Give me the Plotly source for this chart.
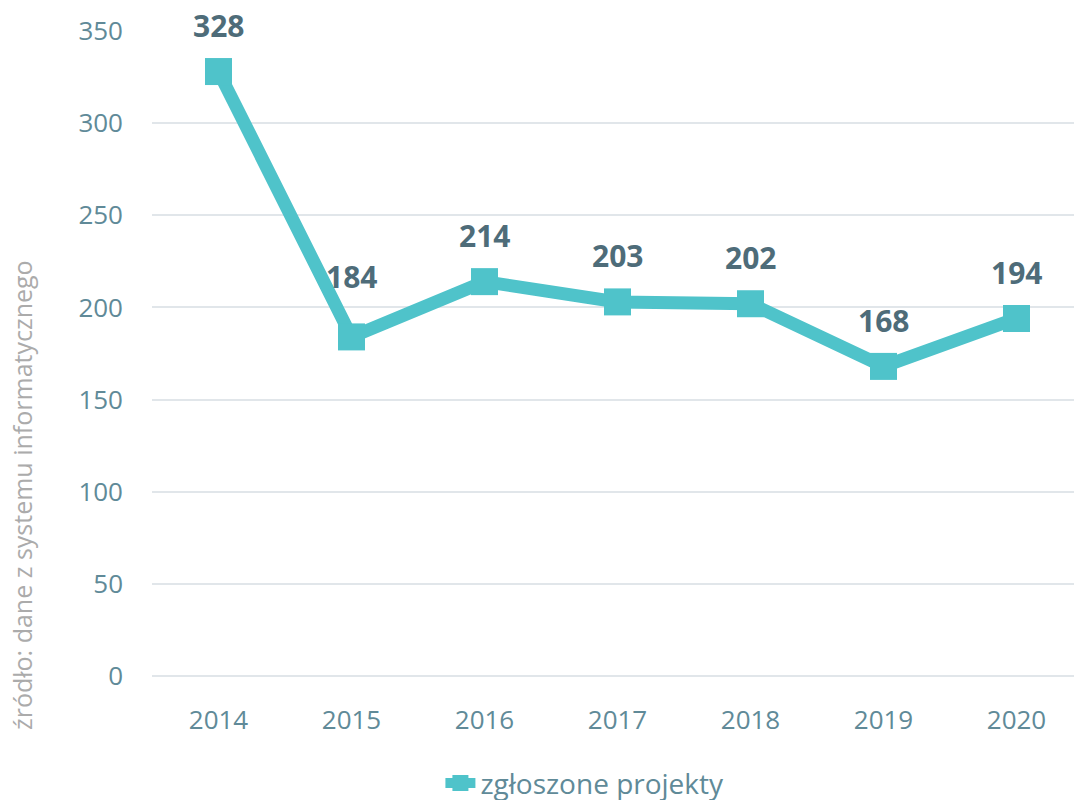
import plotly.graph_objects as go

years = ["2014", "2015", "2016", "2017", "2018", "2019", "2020"]
projects = [328, 184, 214, 203, 202, 168, 194]
series_name = "zgłoszone projekty"
y_ticks = [0, 50, 100, 150, 200, 250, 300, 350]
source_note = "źródło: dane z systemu informatycznego"

LINE = "#4FC3CA"
LABEL = "#4E6C79"
TICK = "#608A98"
GRID = "#E1E6EA"
FONT = "Open Sans"

fig = go.Figure()
fig.add_trace(go.Scatter(
    x=list(range(len(years))), y=projects, name=series_name,
    mode="lines+markers",
    line=dict(color=LINE, width=13),
    marker=dict(symbol="square", size=27, color=LINE),
    cliponaxis=False,
))

label_shift = [46 if v != 184 else 60 for v in projects]
for i, (v, s) in enumerate(zip(projects, label_shift)):
    fig.add_annotation(x=i, y=v, text=f"<b>{v}</b>", showarrow=False,
                       yshift=s, font=dict(family=FONT, size=30, color=LABEL))

fig.add_annotation(xref="paper", yref="paper", x=-0.1396, y=0.2806,
                   text=source_note, textangle=-90, showarrow=False,
                   xanchor="center", yanchor="middle",
                   font=dict(family=FONT, size=25, color="#ABABAB"))

fig.update_layout(
    width=1082, height=800,
    margin=dict(l=144, r=7, t=23, b=132),
    paper_bgcolor="white", plot_bgcolor="white",
    showlegend=True,
    legend=dict(orientation="h", xref="paper", x=0.465, xanchor="center",
                yref="container", y=0.062, yanchor="top",
                font=dict(family=FONT, size=28, color=TICK)),
    xaxis=dict(range=[-0.5, 6.5], tickvals=list(range(len(years))), ticktext=years,
               showgrid=False, showline=False, zeroline=False, automargin=False,
               ticks="", ticklabelstandoff=26,
               tickfont=dict(family=FONT, size=26, color=TICK)),
    yaxis=dict(range=[0, 350], tickvals=y_ticks, showgrid=True, gridcolor=GRID,
               gridwidth=2, zeroline=True, zerolinecolor=GRID, zerolinewidth=2,
               automargin=False, ticks="", ticklabelstandoff=28,
               tickfont=dict(family=FONT, size=26, color=TICK)),
)

fig.write_html("out.html")
